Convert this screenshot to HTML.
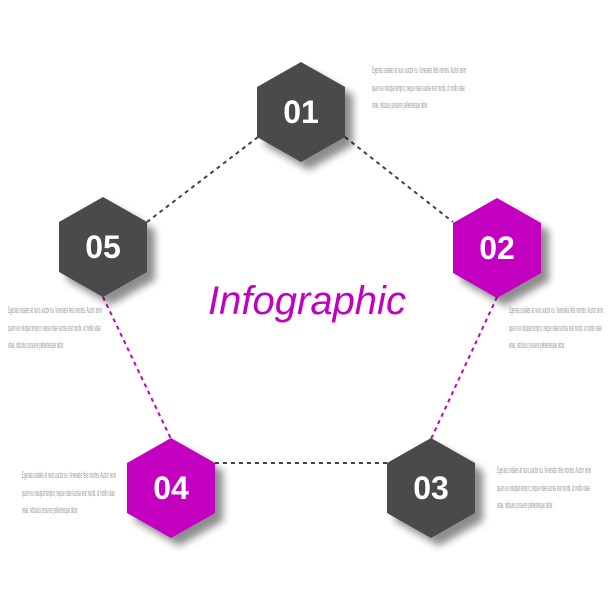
<!DOCTYPE html>
<html><head><meta charset="utf-8"><style>
body{margin:0;background:#fff;}
.t{position:absolute;font-family:"Liberation Sans",sans-serif;font-size:9px;line-height:17.5px;color:#999;transform:scaleX(0.33);transform-origin:0 0;white-space:nowrap}
</style></head><body>
<div style="position:relative;width:612px;height:612px;overflow:hidden">
<svg width="612" height="612" style="position:absolute;left:0;top:0">
<defs>
<filter id="b" x="-50%" y="-50%" width="200%" height="200%"><feGaussianBlur stdDeviation="4"/></filter>
<polygon id="h" points="0,-50 44,-25 44,25 0,50 -44,25 -44,-25"/>
</defs>
<g stroke-width="2" stroke-dasharray="4,4" fill="none">
<line x1="345" y1="137" x2="453" y2="222" stroke="#444"/>
<line x1="258" y1="137" x2="147" y2="222" stroke="#444"/>
<line x1="103" y1="297" x2="171" y2="439" stroke="#c400c0"/>
<line x1="497" y1="297" x2="431" y2="439" stroke="#c400c0"/>
<line x1="215" y1="463" x2="388" y2="463" stroke="#444"/>
</g>
<g fill="#000" opacity="0.45" filter="url(#b)">
<use href="#h" x="309" y="120"/><use href="#h" x="505" y="256"/><use href="#h" x="439" y="496"/><use href="#h" x="179" y="496"/><use href="#h" x="111" y="255"/>
</g>
<use href="#h" x="301" y="112" fill="#4a4a4a"/>
<use href="#h" x="497" y="248" fill="#c400c0"/>
<use href="#h" x="431" y="488" fill="#4a4a4a"/>
<use href="#h" x="171" y="488" fill="#c400c0"/>
<use href="#h" x="103" y="247" fill="#4a4a4a"/>
<g font-family="Liberation Sans,sans-serif" font-weight="bold" font-size="32" fill="#fff" text-anchor="middle">
<text x="301" y="123">01</text><text x="497" y="259">02</text><text x="431" y="499">03</text><text x="171" y="499">04</text><text x="103" y="258">05</text>
</g>
<text x="307" y="314" font-family="Liberation Sans,sans-serif" font-style="italic" font-size="40" fill="#c400c0" text-anchor="middle">Infographic</text>
</svg>
<div class="t" style="left:372px;top:62px">Egestas sodales at nunc auctor eu. Venenatis felis montes. Auctor enim<br>quam eu volutpat tempor, neque vitae lacinia erat morbi, ut mollis vitae<br>vitae, ridiculus posuere pellentesque dolor.</div>
<div class="t" style="left:509px;top:302px">Egestas sodales at nunc auctor eu. Venenatis felis montes. Auctor enim<br>quam eu volutpat tempor, neque vitae lacinia erat morbi, ut mollis vitae<br>vitae, ridiculus posuere pellentesque dolor.</div>
<div class="t" style="left:497px;top:462px">Egestas sodales at nunc auctor eu. Venenatis felis montes. Auctor enim<br>quam eu volutpat tempor, neque vitae lacinia erat morbi, ut mollis vitae<br>vitae, ridiculus posuere pellentesque dolor.</div>
<div class="t" style="left:22px;top:467px">Egestas sodales at nunc auctor eu. Venenatis felis montes. Auctor enim<br>quam eu volutpat tempor, neque vitae lacinia erat morbi, ut mollis vitae<br>vitae, ridiculus posuere pellentesque dolor.</div>
<div class="t" style="left:8px;top:302px">Egestas sodales at nunc auctor eu. Venenatis felis montes. Auctor enim<br>quam eu volutpat tempor, neque vitae lacinia erat morbi, ut mollis vitae<br>vitae, ridiculus posuere pellentesque dolor.</div>
</div>
</body></html>
